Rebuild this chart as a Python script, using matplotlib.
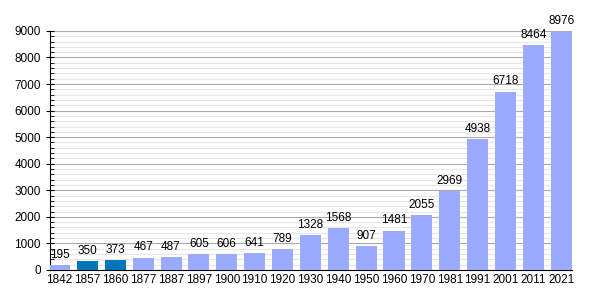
import numpy as np
import matplotlib.pyplot as plt
from matplotlib.ticker import MultipleLocator

plt.rcParams['font.family'] = ['Liberation Sans', 'DejaVu Sans']

years = ['1842', '1857', '1860', '1877', '1887', '1897', '1900', '1910', '1920', '1930',
         '1940', '1950', '1960', '1970', '1981', '1991', '2001', '2011', '2021']
population = [195, 350, 373, 467, 487, 605, 606, 641, 789, 1328,
              1568, 907, 1481, 2055, 2969, 4938, 6718, 8464, 8976]
highlight = ['1857', '1860']

light = '#99aaff'
dark = '#0077bb'
colors = [dark if y in highlight else light for y in years]

fig = plt.figure(figsize=(6, 3), dpi=100)
ax = fig.add_axes([0.083, 0.1, 0.87, 0.797])

x = np.arange(len(years))
ax.bar(x, population, width=0.755, color=colors, zorder=3)
for xi, v in zip(x, population):
    ax.annotate(str(v), (xi, v), xytext=(0, 3), textcoords='offset points',
                ha='center', va='bottom', fontsize=8.5, zorder=4, annotation_clip=False)

ax.set_xlim(-0.35, len(years) - 1 + 0.38)
ax.set_ylim(0, 9000)
ax.set_xticks(x)
ax.set_xticklabels(years, fontsize=8.5)
ax.yaxis.set_major_locator(MultipleLocator(1000))
ax.yaxis.set_minor_locator(MultipleLocator(200))
ax.tick_params(axis='y', which='major', direction='inout', length=6, labelsize=8.5)
ax.tick_params(axis='y', which='minor', direction='in', length=3)
ax.tick_params(axis='x', length=0, pad=3)
ax.grid(axis='y', which='major', color='#aaaaaa', linewidth=0.8, zorder=0)
ax.grid(axis='y', which='minor', color='#e6e6e6', linewidth=0.8, zorder=0)
for s in ['top', 'right']:
    ax.spines[s].set_visible(False)

fig.savefig('out.png', dpi=100)
